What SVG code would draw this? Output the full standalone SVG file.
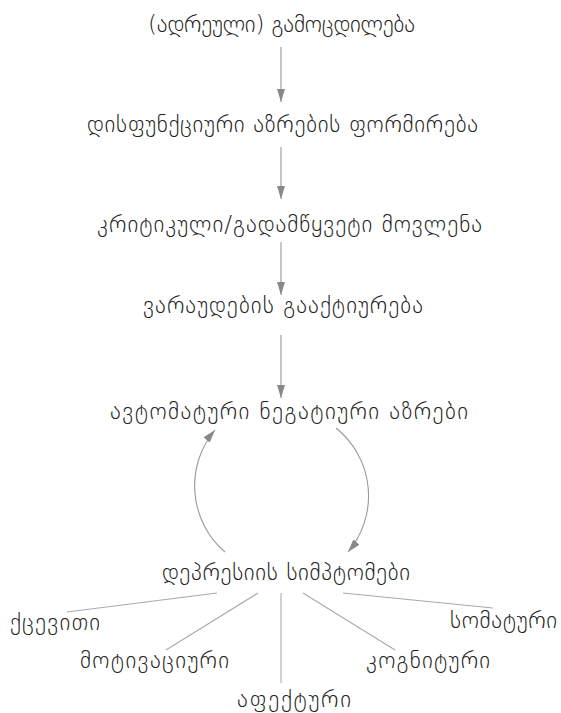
<svg xmlns="http://www.w3.org/2000/svg" width="561" height="713" viewBox="0 0 561 713">
<style>
text{font-family:"DejaVu Sans",sans-serif;font-weight:200;font-size:23px;fill:#222;text-anchor:middle}
.c{stroke:#999;stroke-width:1.1;fill:none}
.l{stroke:#aaa;stroke-width:1.1;fill:none}
</style>
<defs>
<marker id="a" viewBox="0 0 13 8" refX="13" refY="4" markerWidth="13" markerHeight="8" markerUnits="userSpaceOnUse" orient="auto"><path d="M0,0L13,4L0,8z" fill="#888"/></marker>
</defs>
<rect width="561" height="713" fill="#fff"/>
<g id="connectors">
<path class="c" d="M281,47V102" marker-end="url(#a)"/>
<path class="c" d="M281,147V199" marker-end="url(#a)"/>
<path class="c" d="M281,242V295" marker-end="url(#a)"/>
<path class="c" d="M281,335V398" marker-end="url(#a)"/>
<path class="c" d="M225,552A87,87 0 0 1 215,430" marker-end="url(#a)"/>
<path class="c" d="M336,428A87,87 0 0 1 348,552" marker-end="url(#a)"/>
<path class="l" d="M217,593L67,612"/>
<path class="l" d="M258,593L166,650"/>
<path class="l" d="M281,593V683"/>
<path class="l" d="M303,593L395,650"/>
<path class="l" d="M343,593L493,608"/>
</g>
<g id="n1"><text x="281.5" y="32" textLength="267" lengthAdjust="spacing">(ადრეული) გამოცდილება</text></g>
<g id="n2"><text x="282.5" y="132" textLength="391" lengthAdjust="spacing">დისფუნქციური აზრების ფორმირება</text></g>
<g id="n3"><text x="289.5" y="232" textLength="385" lengthAdjust="spacing">კრიტიკული/გადამწყვეტი მოვლენა</text></g>
<g id="n4"><text x="283" y="313" textLength="280" lengthAdjust="spacing">ვარაუდების გააქტიურება</text></g>
<g id="n5"><text x="289" y="419" textLength="358" lengthAdjust="spacing">ავტომატური ნეგატიური აზრები</text></g>
<g id="n6"><text x="286" y="580" textLength="248" lengthAdjust="spacing">დეპრესიის სიმპტომები</text></g>
<g id="n7"><text x="55" y="630" textLength="90" lengthAdjust="spacing">ქცევითი</text></g>
<g id="n8"><text x="154.5" y="668" textLength="149" lengthAdjust="spacing">მოტივაციური</text></g>
<g id="n9"><text x="294" y="707" textLength="114" lengthAdjust="spacing">აფექტური</text></g>
<g id="n10"><text x="428" y="668" textLength="124" lengthAdjust="spacing">კოგნიტური</text></g>
<g id="n11"><text x="503.5" y="628" textLength="107" lengthAdjust="spacing">სომატური</text></g>
</svg>
